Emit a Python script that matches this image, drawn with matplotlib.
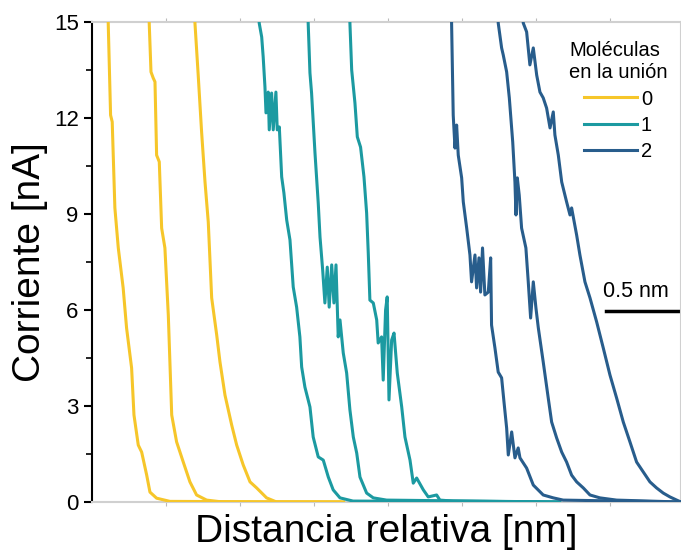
import numpy as np
import matplotlib
matplotlib.use('Agg')
import matplotlib.pyplot as plt

plt.rcParams['font.family'] = ['Liberation Sans', 'DejaVu Sans']

# trazas corriente-distancia (x en nm, corriente en nA)
x_0a = [0.108, 0.110, 0.126, 0.137, 0.155, 0.178, 0.211, 0.234, 0.268, 0.284, 0.313, 0.336, 0.370, 0.392, 0.437, 0.527, 1.676]
y_0a = [15.5, 14.97, 12.09, 11.88, 9.19, 7.94, 6.69, 5.44, 4.19, 2.72, 1.78, 1.56, 0.84, 0.31, 0.12, 0.02, 0.0]
x_0b = [0.387, 0.387, 0.399, 0.414, 0.426, 0.437, 0.455, 0.471, 0.493, 0.516, 0.539, 0.572, 0.617, 0.662, 0.707, 0.775, 0.885, 1.70]
y_0b = [15.5, 14.97, 13.44, 13.25, 13.13, 10.84, 10.63, 8.56, 7.94, 5.84, 2.72, 1.88, 1.25, 0.63, 0.22, 0.06, 0.0, 0.0]
x_0c = [0.694, 0.696, 0.718, 0.741, 0.764, 0.786, 0.809, 0.843, 0.865, 0.899, 0.944, 0.978, 1.022, 1.068, 1.113, 1.180, 1.248, 1.70]
y_0c = [15.5, 14.97, 13.34, 11.56, 10.0, 8.75, 6.38, 5.22, 4.38, 3.34, 2.41, 1.78, 1.16, 0.63, 0.44, 0.13, 0.0, 0.0]

x_1a = [1.128, 1.130, 1.147, 1.157, 1.169, 1.176, 1.191, 1.198, 1.214, 1.225, 1.243, 1.252, 1.266, 1.282, 1.297, 1.316,
        1.338, 1.360, 1.383, 1.405, 1.417, 1.439, 1.461, 1.473, 1.495, 1.529, 1.563, 1.597, 1.630, 1.676, 1.764, 3.16]
y_1a = [15.5, 14.97, 14.53, 13.91, 12.97, 12.16, 12.81, 11.63, 12.78, 11.63, 12.81, 11.63, 11.72, 10.16, 9.66, 8.81,
        8.19, 6.72, 6.09, 5.16, 4.22, 3.59, 3.19, 2.97, 2.03, 1.41, 1.31, 0.78, 0.38, 0.13, 0.03, 0.0]
x_1b = [1.460, 1.461, 1.473, 1.484, 1.507, 1.529, 1.541, 1.559, 1.574, 1.590, 1.603, 1.620, 1.635, 1.649, 1.664, 1.676,
        1.698, 1.721, 1.743, 1.766, 1.789, 1.811, 1.856, 1.901, 1.991, 3.16]
y_1b = [15.5, 14.97, 13.41, 12.78, 10.91, 9.34, 8.28, 7.25, 6.22, 7.34, 6.09, 7.41, 6.22, 7.41, 5.16, 5.69,
        4.66, 4.03, 2.88, 2.03, 1.53, 0.78, 0.28, 0.13, 0.06, 0.0]
x_1c = [1.742, 1.743, 1.755, 1.777, 1.793, 1.815, 1.838, 1.856, 1.867, 1.878, 1.901, 1.924, 1.934, 1.957, 1.968, 1.984,
        1.995, 2.007, 2.025, 2.041, 2.063, 2.093, 2.115, 2.149, 2.171, 2.194, 2.239, 2.272, 2.329, 2.351, 2.439, 3.16]
y_1c = [15.5, 14.97, 13.5, 12.47, 11.41, 11.09, 10.16, 9.03, 7.78, 6.31, 6.22, 5.69, 4.97, 5.16, 3.81, 6.0,
        6.41, 3.19, 5.06, 5.28, 4.03, 2.97, 2.03, 1.31, 0.59, 0.75, 0.38, 0.16, 0.22, 0.06, 0.03, 0.0]

x_2a = [2.428, 2.430, 2.441, 2.453, 2.464, 2.475, 2.498, 2.509, 2.532, 2.554, 2.565, 2.588, 2.599, 2.615, 2.626, 2.639,
        2.655, 2.678, 2.694, 2.700, 2.723, 2.745, 2.768, 2.784, 2.802, 2.813, 2.836, 2.858, 2.880, 2.892, 2.937, 2.982,
        3.049, 3.117, 3.184, 3.98]
y_2a = [15.5, 14.97, 12.09, 11.06, 11.78, 10.84, 10.13, 9.38, 8.56, 7.72, 6.88, 7.72, 6.69, 7.63, 6.56, 7.94,
        6.47, 6.56, 7.63, 5.53, 4.81, 4.06, 3.88, 3.13, 2.31, 1.47, 2.19, 1.38, 1.69, 1.38, 1.06, 0.53,
        0.22, 0.13, 0.06, 0.0]
x_2b = [2.744, 2.745, 2.768, 2.779, 2.802, 2.820, 2.843, 2.858, 2.865, 2.874, 2.887, 2.903, 2.932, 2.948, 2.964, 2.982,
        3.000, 3.016, 3.049, 3.083, 3.106, 3.140, 3.174, 3.207, 3.241, 3.275, 3.320, 3.365, 3.432, 3.545, 3.98]
y_2b = [15.5, 14.97, 14.19, 13.97, 13.44, 12.63, 11.25, 10.0, 8.97, 10.13, 9.59, 8.56, 7.94, 6.88, 5.75, 6.88,
        6.06, 5.44, 4.38, 3.25, 2.5, 2.0, 1.56, 1.25, 0.84, 0.63, 0.44, 0.22, 0.13, 0.06, 0.0]
x_2c = [2.913, 2.914, 2.937, 2.959, 2.982, 3.005, 3.027, 3.049, 3.072, 3.095, 3.117, 3.128, 3.151, 3.174, 3.207, 3.230,
        3.241, 3.275, 3.297, 3.331, 3.365, 3.410, 3.455, 3.500, 3.545, 3.590, 3.635, 3.680, 3.725, 3.770, 3.815, 3.860,
        3.905, 3.951, 3.980]
y_2c = [15.5, 14.97, 14.69, 13.66, 14.19, 13.34, 12.81, 12.63, 12.31, 11.69, 12.19, 11.47, 10.84, 10.0, 9.38, 8.97,
        9.19, 8.34, 7.72, 6.88, 6.38, 5.63, 4.81, 3.97, 3.25, 2.5, 1.88, 1.25, 0.94, 0.63, 0.44, 0.28,
        0.16, 0.06, 0.0]

grupos = ['0', '1', '2']
colores = ['#F6C62A', '#1C9AA1', '#285D8C']
trazas = [
    [(x_0a, y_0a), (x_0b, y_0b), (x_0c, y_0c)],
    [(x_1a, y_1a), (x_1b, y_1b), (x_1c, y_1c)],
    [(x_2a, y_2a), (x_2b, y_2b), (x_2c, y_2c)],
]

fig = plt.figure(figsize=(6.81, 5.57), dpi=100)
ax = fig.add_axes([0.135, 0.0987, 0.865, 0.8618])

for g, c, series in zip(grupos, colores, trazas):
    for i, (xs, ys) in enumerate(series):
        ax.plot(xs, ys, color=c, lw=2.2, label=g if i == 0 else None, zorder=3)

ax.set_xlim(0, 3.98)
ax.set_ylim(0, 15)

ax.set_yticks([0, 3, 6, 9, 12, 15])
ax.set_yticks(np.arange(1.5, 15, 3), minor=True)
ax.set_xticks(np.arange(0.5, 3.9, 0.5))
ax.set_xticklabels([])
ax.tick_params(axis='y', which='major', length=6, width=1.5, labelsize=16, direction='out')
ax.tick_params(axis='y', which='minor', length=4, width=1.2, direction='out')
ax.tick_params(axis='x', which='major', length=3, width=0.8, color='#BBBBBB', direction='out', top=True)

for s in ['top', 'bottom', 'right']:
    ax.spines[s].set_color('#D0D0D0')
    ax.spines[s].set_linewidth(1.5)
ax.spines['left'].set_linewidth(1.5)

ax.set_ylabel('Corriente [nA]', fontsize=28, labelpad=4)
ax.set_xlabel('Distancia relativa [nm]', fontsize=28, labelpad=2)

# barra de escala
ax.plot([3.47, 3.98], [5.97, 5.97], color='black', lw=2.5, clip_on=False)
ax.text(3.676, 6.25, '0.5 nm', fontsize=15.5, ha='center', va='bottom')

leg = ax.legend(title='Moléculas\nen la unión', loc='upper right', bbox_to_anchor=(0.994, 0.982),
                frameon=False, fontsize=14.5, title_fontsize=14.5, handlelength=2.6,
                handletextpad=0.2, labelspacing=0.35, borderpad=0)
leg.get_title().set_linespacing(1.25)

fig.savefig('out.png', dpi=100)
